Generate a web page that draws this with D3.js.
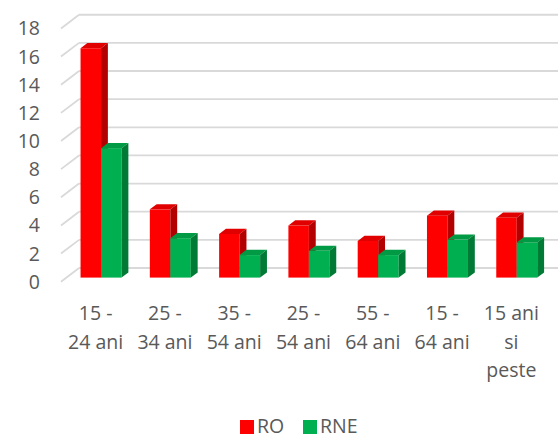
<!DOCTYPE html>
<html><head><meta charset="utf-8">
<script src="https://cdn.jsdelivr.net/npm/d3@7"></script>
<style>html,body{margin:0;padding:0;background:#fff;}</style>
</head><body>
<svg id="c" width="558" height="439"></svg>
<script>
const labelLines = [["15 -","24 ani"],["25 -","34 ani"],["35 -","54 ani"],["25 -","54 ani"],["55 -","64 ani"],["15 -","64 ani"],["15 ani","si","peste"]];
const categories = labelLines.map(l => l.join(" "));
const series = ["RO","RNE"];
const RO  = [16.3, 4.85, 3.1, 3.7, 2.6, 4.4, 4.25];
const RNE = [9.2, 2.8, 1.6, 1.9, 1.6, 2.7, 2.5];
const yTicks = [0,2,4,6,8,10,12,14,16,18];
const colors = {RO:{front:"#FF0000", top:"#E00000", side:"#B30000"}, RNE:{front:"#00B050", top:"#009A44", side:"#007A35"}};

const svg = d3.select("#c");
const font = "'Open Sans', sans-serif";
const fs = 19.5;
const txt = "#595959";
const D = {dx:18, dy:-13.7};        // full depth vector
const f0 = 0.30, f1 = 0.68;         // bar depth fraction
const y = d3.scaleLinear().domain([0,18]).range([281.7, 281.7-18*14.07]);
const x0 = d3.scaleBand().domain(categories).range([61,546]).padding(0);
const x1 = d3.scaleBand().domain(series).range([0, x0.bandwidth()]).paddingInner(0).paddingOuter(0.69);

// grid: back wall lines + left wall diagonals
const g = svg.append("g");
yTicks.forEach(t => {
  const yf = y(t), yb = y(t)+D.dy;
  g.append("line").attr("x1",61).attr("y1",yf).attr("x2",61+D.dx).attr("y2",yb)
    .attr("stroke","#D9D9D9").attr("stroke-width",1.8);
  g.append("line").attr("x1",61+D.dx).attr("y1",yb).attr("x2",558).attr("y2",yb)
    .attr("stroke","#D9D9D9").attr("stroke-width",1.8);
});

// y tick labels
svg.append("g").selectAll("text").data(yTicks).join("text")
  .attr("x",40).attr("y",d=>y(d)+7).attr("text-anchor","end")
  .attr("font-family",font).attr("font-size",fs).attr("fill",txt).text(d=>d);

// bars
const data = {RO, RNE};
const bdx = (f1-f0)*D.dx, bdy = (f1-f0)*D.dy;
const bars = svg.append("g");
categories.forEach((c,i) => {
  series.forEach(s => {
    const v = data[s][i];
    const xl = x0(c) + x1(s) + f0*D.dx;
    const w = x1.bandwidth();
    const yb = y(0) + f0*D.dy, yt = y(v) + f0*D.dy;
    const col = colors[s];
    bars.append("rect").attr("x",xl).attr("y",yt).attr("width",w).attr("height",yb-yt).attr("fill",col.front);
    bars.append("polygon").attr("points",[[xl,yt],[xl+w,yt],[xl+w+bdx,yt+bdy],[xl+bdx,yt+bdy]].map(p=>p.join(",")).join(" ")).attr("fill",col.top);
    bars.append("polygon").attr("points",[[xl+w,yt],[xl+w+bdx,yt+bdy],[xl+w+bdx,yb+bdy],[xl+w,yb]].map(p=>p.join(",")).join(" ")).attr("fill",col.side);
  });
});

// x labels
const xl = svg.append("g");
categories.forEach((c,i) => {
  const t = xl.append("text").attr("text-anchor","middle").attr("font-family",font)
    .attr("font-size",fs).attr("fill",txt);
  labelLines[i].forEach((ln,j) => {
    t.append("tspan").attr("x", x0(c)+x0.bandwidth()/2).attr("y", 320 + j*28.5).text(ln);
  });
});

// legend
const leg = svg.append("g");
const legX = [240, 303];
series.forEach((s,i) => {
  leg.append("rect").attr("x",legX[i]).attr("y",420).attr("width",14).attr("height",14).attr("fill",colors[s].front);
  leg.append("text").attr("x",legX[i]+17).attr("y",433).attr("font-family",font).attr("font-size",fs).attr("fill",txt).text(s);
});
</script>
</body></html>
